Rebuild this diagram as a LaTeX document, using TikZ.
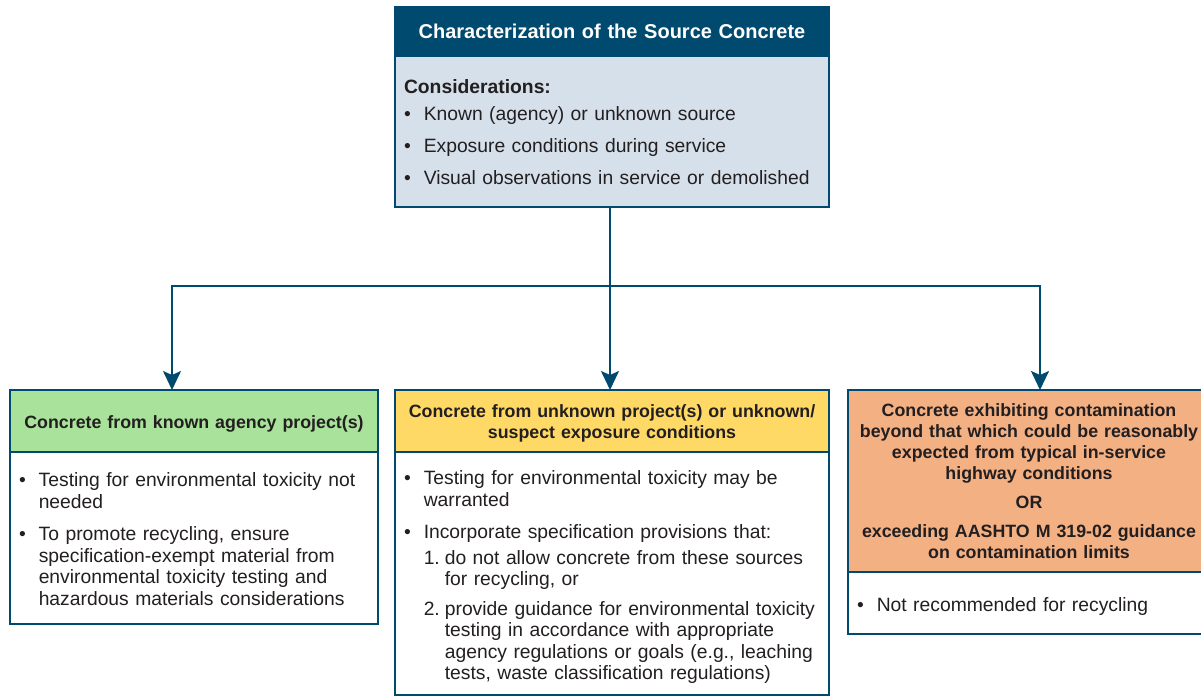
\documentclass[tikz,border=0pt]{standalone}
\usepackage{fontspec}
\setmainfont{Liberation Sans}
\usetikzlibrary{positioning}
\usetikzlibrary{arrows.meta}

\definecolor{navy}{HTML}{004A70}
\definecolor{ink}{HTML}{231F20}
\definecolor{topblue}{HTML}{D5E0EA}
\definecolor{knowngreen}{HTML}{A9E29B}
\definecolor{unknownyellow}{HTML}{FFD966}
\definecolor{badorange}{HTML}{F3B083}

\newcommand{\dropby}[2]{\raisebox{-#1}[\height][\depth]{#2}}

\tikzset{
    box/.style={draw=navy, line width=2pt, anchor=north west, outer sep=0pt,
        inner xsep=9pt, inner ysep=0pt, text=ink},
    headbox/.style={box, align=center, inner xsep=3pt,
        font=\bfseries\fontsize{17.8}{21}\selectfont},
    bodybox/.style={box, fill=white, align=left,
        font=\fontsize{19.3}{21.5}\selectfont},
    link/.style={draw=navy, line width=2pt,
        -{Stealth[length=19pt, width=18pt, inset=4pt]}}
}

\begin{document}
\begin{tikzpicture}[x=1pt, y=-1pt]
    \useasboundingbox (0,0) rectangle (1201,696);

    \node[headbox, fill=navy, text=white, text width=428pt, minimum height=49pt,
        font=\bfseries\fontsize{20}{21}\selectfont] (tophead) at (395,7)
        {Characterization of the Source Concrete};
    \node[bodybox, fill=topblue, text width=416pt, minimum height=151pt, below=0pt of tophead] (topbody) {%
        \dropby{3.5pt}{\begin{tabular}{@{}l@{\hspace{13pt}}l@{}}
            \multicolumn{2}{@{}l@{}}{\bfseries Considerations:}\\[5.5pt]
            \textbullet & Known (agency) or unknown source\\[10.5pt]
            \textbullet & Exposure conditions during service\\[10.5pt]
            \textbullet & Visual observations in service or demolished
        \end{tabular}}};

    \node[headbox, fill=knowngreen, text width=362pt, minimum height=62pt] (lefthead) at (10,390)
        {\dropby{3pt}{Concrete from known agency project(s)}};
    \node[bodybox, text width=350pt, minimum height=172pt, below=0pt of lefthead] (leftbody) {%
        \dropby{3.5pt}{\begin{tabular}{@{}l@{\hspace{13pt}}l@{}}
            \textbullet & Testing for environmental toxicity not\\
                        & needed\\[11pt]
            \textbullet & To promote recycling, ensure\\
                        & specification-exempt material from\\
                        & environmental toxicity testing and\\
                        & hazardous materials considerations
        \end{tabular}}};

    \node[headbox, fill=unknownyellow, text width=428pt, minimum height=62pt] (midhead) at (395,390)
        {\dropby{2.5pt}{\begin{tabular}{@{}c@{}}
            Concrete from unknown project(s) or unknown/\\
            suspect exposure conditions
        \end{tabular}}};
    \node[bodybox, text width=416pt, minimum height=243pt, below=0pt of midhead] (midbody) {%
        \dropby{4.5pt}{\begin{tabular}{@{}l@{\hspace{13pt}}l@{\hspace{5pt}}l@{}}
            \textbullet & \multicolumn{2}{@{}l@{}}{Testing for environmental toxicity may be}\\
                        & \multicolumn{2}{@{}l@{}}{warranted}\\[11pt]
            \textbullet & \multicolumn{2}{@{}l@{}}{Incorporate specification provisions that:}\\[4pt]
                        & 1. & do not allow concrete from these sources\\
                        &    & for recycling, or\\[8pt]
                        & 2. & provide guidance for environmental toxicity\\
                        &    & testing in accordance with appropriate\\
                        &    & agency regulations or goals (e.g., leaching\\
                        &    & tests, waste classification regulations)
        \end{tabular}}};

    \node[headbox, fill=badorange, text width=356pt, minimum height=182pt] (righthead) at (848,390)
        {\dropby{2pt}{\begin{tabular}{@{}c@{}}
            Concrete exhibiting contamination\\
            beyond that which could be reasonably\\
            expected from typical in-service\\
            highway conditions\\[8pt]
            OR\\[8pt]
            exceeding AASHTO M 319-02 guidance\\
            on contamination limits
        \end{tabular}}};
    \node[bodybox, text width=344pt, minimum height=62pt, below=0pt of righthead] (rightbody) {%
        \dropby{4pt}{\begin{tabular}{@{}l@{\hspace{13pt}}l@{}}
            \textbullet & Not recommended for recycling
        \end{tabular}}};

    \path (topbody.south) -- (midhead.north) coordinate[pos=0.43] (split);
    \draw[link] ([xshift=-2pt]topbody.south) -- ([xshift=-2pt]midhead.north);
    \draw[link] ([xshift=-2pt]split) -| ([xshift=162pt]lefthead.north west);
    \draw[link] ([xshift=-2pt]split) -| ([xshift=192pt]righthead.north west);
\end{tikzpicture}
\end{document}
